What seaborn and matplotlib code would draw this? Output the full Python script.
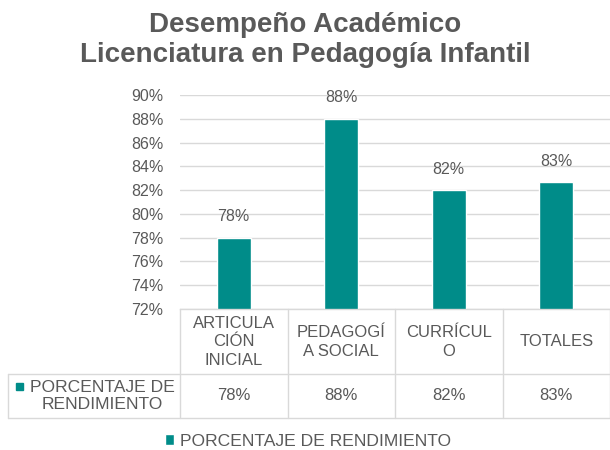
import matplotlib
matplotlib.use("Agg")
import matplotlib.pyplot as plt
import matplotlib.transforms as mtransforms
from matplotlib.lines import Line2D
from matplotlib.patches import Rectangle
import seaborn as sns

# data
categories = ["ARTICULACIÓN INICIAL", "PEDAGOGÍA SOCIAL", "CURRÍCULO", "TOTALES"]
header_labels = ["ARTICULA\nCIÓN\nINICIAL", "PEDAGOGÍ\nA SOCIAL", "CURRÍCUL\nO", "TOTALES"]
rendimiento = [0.78, 0.88, 0.82, 0.8267]
series_name = "PORCENTAJE DE RENDIMIENTO"
y_ticks = [0.72, 0.74, 0.76, 0.78, 0.80, 0.82, 0.84, 0.86, 0.88, 0.90]

teal = "#008C89"
gray_txt = "#595959"
grid_col = "#D9D9D9"

sns.set_style("white")
plt.rcParams["font.family"] = ["Liberation Sans", "DejaVu Sans"]

W, H = 610, 450
fig = plt.figure(figsize=(W / 100, H / 100), dpi=100)

def fx(px):
    return px / W

def fy(px):
    return 1 - px / H

# plot area: 72% at y=309, 90% at y=95, x from 180 to 610
ax = fig.add_axes([fx(180), fy(309), fx(610) - fx(180), fy(95) - fy(309)])

sns.barplot(x=categories, y=rendimiento, color=teal, width=0.32, ax=ax,
            label=series_name, saturation=1)
handles, labels = ax.get_legend_handles_labels()
if ax.get_legend() is not None:
    ax.get_legend().remove()

ax.set_ylim(0.72, 0.90)
ax.set_xlim(-0.5, 3.5)
ax.set_yticks(y_ticks)
ax.set_yticklabels([f"{v*100:.0f}%" for v in y_ticks])
ax.yaxis.grid(True, color=grid_col, linewidth=1)
ax.set_axisbelow(True)
ax.tick_params(axis="y", length=0, pad=12, labelsize=11.5, labelcolor=gray_txt)
ax.tick_params(axis="x", length=0, labelbottom=False)
ax.set_xlabel("")
ax.set_ylabel("")
for side in ["top", "right", "left"]:
    ax.spines[side].set_visible(False)
ax.spines["bottom"].set_color(grid_col)
ax.spines["bottom"].set_linewidth(1)

# value labels
for i, v in enumerate(rendimiento):
    ax.annotate(f"{v*100:.0f}%", (i, v), xytext=(0, 15), textcoords="offset points",
                ha="center", va="center", fontsize=11.5, color=gray_txt)

# data table below the axis
blend = mtransforms.blended_transform_factory(ax.transData, fig.transFigure)
for i, lab in enumerate(header_labels):
    ax.text(i, fy(342), lab, transform=blend, ha="center", va="center",
            fontsize=12, color=gray_txt, linespacing=1.3, clip_on=False)
    ax.text(i, fy(396), f"{rendimiento[i]*100:.0f}%", transform=blend,
            ha="center", va="center", fontsize=12, color=gray_txt, clip_on=False)

for xb in [-0.5, 0.5, 1.5, 2.5, 3.5]:
    ax.add_line(Line2D([xb, xb], [fy(309), fy(418)], transform=blend,
                       color=grid_col, linewidth=1, clip_on=False))
for yb in [374, 418]:
    fig.add_artist(Line2D([fx(8), fx(610)], [fy(yb), fy(yb)], color=grid_col, linewidth=1))
fig.add_artist(Line2D([fx(8), fx(8)], [fy(374), fy(418)], color=grid_col, linewidth=1))

fig.add_artist(Rectangle((fx(16), fy(390)), fx(7), 7 / H, color=teal,
                         transform=fig.transFigure))
fig.text(fx(102), fy(396), "PORCENTAJE DE\nRENDIMIENTO", ha="center", va="center",
         fontsize=12.6, color=gray_txt, linespacing=1.15)

# legend
fig.legend(handles, labels, loc="center", bbox_to_anchor=(fx(308), fy(441)), frameon=False,
           handlelength=0.55, handleheight=0.55, handletextpad=0.35,
           prop={"size": 12.6}, labelcolor=gray_txt)

# title
fig.text(0.5, fy(40), "Desempeño Académico\nLicenciatura en Pedagogía Infantil",
         ha="center", va="center", fontsize=20, fontweight="bold", color=gray_txt,
         linespacing=1.2)

fig.savefig("out.png", dpi=100)
